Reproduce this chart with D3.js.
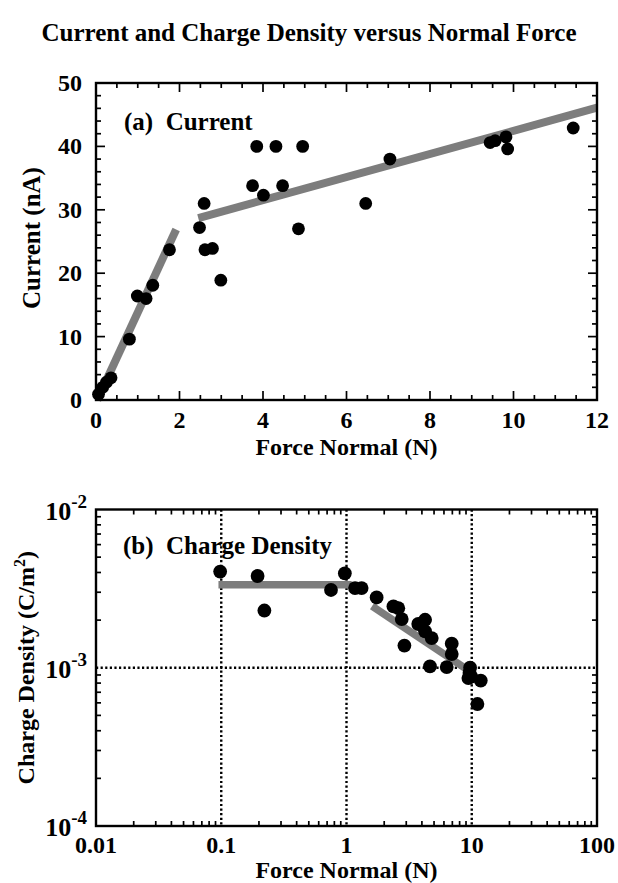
<!DOCTYPE html>
<html><head><meta charset="utf-8">
<script src="https://cdn.jsdelivr.net/npm/d3@7"></script>
<style>
html,body{margin:0;padding:0;background:#fff;}
text{font-family:"Liberation Serif","Times New Roman",serif;font-weight:bold;fill:#000;}
</style></head>
<body>
<script>
// ---------- DATA ----------
const forceA   = [0.06, 0.16, 0.25, 0.36, 0.80, 0.99, 1.20, 1.36, 1.76, 2.48, 2.59, 2.61, 2.79, 2.99, 3.75, 3.85, 4.01, 4.31, 4.47, 4.85, 4.95, 6.46, 7.04, 9.44, 9.56, 9.82, 9.86, 11.43];
const currentA = [0.9, 2.0, 2.8, 3.5, 9.6, 16.4, 16.0, 18.1, 23.7, 27.2, 31.0, 23.7, 23.9, 18.9, 33.8, 40.0, 32.3, 40.0, 33.8, 27.0, 40.0, 31.0, 38.0, 40.6, 40.9, 41.5, 39.6, 42.9];
const fitA1X = [0.03, 1.92], fitA1Y = [0.0, 26.9];
const fitA2X = [2.45, 12.0], fitA2Y = [28.7, 46.1];
const xTicksA = [0, 2, 4, 6, 8, 10, 12];
const yTicksA = [0, 10, 20, 30, 40, 50];

const forceB   = [0.098, 0.195, 0.221, 0.752, 0.97, 1.17, 1.32, 1.74, 2.37, 2.59, 2.76, 2.90, 3.74, 4.24, 4.24, 4.79, 4.64, 6.31, 6.92, 6.92, 9.7, 9.4, 9.9, 9.6, 11.8, 11.1];
const densityB = [4.05e-3, 3.80e-3, 2.30e-3, 3.10e-3, 3.95e-3, 3.19e-3, 3.19e-3, 2.78e-3, 2.44e-3, 2.38e-3, 2.03e-3, 1.38e-3, 1.89e-3, 2.01e-3, 1.70e-3, 1.54e-3, 1.02e-3, 1.01e-3, 1.42e-3, 1.22e-3, 1.0e-3, 8.6e-4, 8.8e-4, 9.3e-4, 8.3e-4, 5.9e-4];
const fitB1X = [0.095, 1.1], fitB1Y = [3.34e-3, 3.34e-3];
const fitB2X = [1.6, 10.0], fitB2Y = [2.45e-3, 9.3e-4];
const xTicksB = [0.01, 0.1, 1, 10, 100];
const xTickLabelsB = ["0.01", "0.1", "1", "10", "100"];
const yTicksB = [1e-4, 1e-3, 1e-2];
const yTickExpB = ["-4", "-3", "-2"];

const title = "Current and Charge Density versus Normal Force";

// ---------- LAYOUT ----------
const W = 618, H = 883;
const svg = d3.select("body").append("svg").attr("width", W).attr("height", H);
const L = 96, R = 597;
const aTop = 83, aBot = 400;
const bTop = 509.5, bBot = 826;

svg.append("text").attr("x", 309).attr("y", 41).attr("text-anchor", "middle")
  .style("font-size", "25px").text(title);

const fitColor = "#7d7d7d";

// ---------- PANEL A ----------
const xA = d3.scaleLinear().domain([0, 12]).range([L, R]);
const yA = d3.scaleLinear().domain([0, 50]).range([aBot, aTop]);
const gA = svg.append("g");

const minorXA = d3.range(0, 12.001, 0.5);
const minorYA = d3.range(0, 50.001, 2);
minorXA.forEach(v => {
  const major = Math.abs(v % 2) < 1e-6;
  const len = major ? 9 : 5;
  gA.append("line").attr("x1", xA(v)).attr("x2", xA(v)).attr("y1", aBot).attr("y2", aBot - len).attr("stroke", "#000").attr("stroke-width", 1.7);
  gA.append("line").attr("x1", xA(v)).attr("x2", xA(v)).attr("y1", aTop).attr("y2", aTop + len).attr("stroke", "#000").attr("stroke-width", 1.7);
});
minorYA.forEach(v => {
  const major = Math.abs(v % 10) < 1e-6;
  const len = major ? 9 : 5;
  gA.append("line").attr("y1", yA(v)).attr("y2", yA(v)).attr("x1", L).attr("x2", L + len).attr("stroke", "#000").attr("stroke-width", 1.7);
  gA.append("line").attr("y1", yA(v)).attr("y2", yA(v)).attr("x1", R).attr("x2", R - len).attr("stroke", "#000").attr("stroke-width", 1.7);
});

const lineA = d3.line().x(d => xA(d[0])).y(d => yA(d[1]));
gA.append("path").attr("d", lineA(d3.zip(fitA1X, fitA1Y))).attr("stroke", fitColor).attr("stroke-width", 8).attr("fill", "none");
gA.append("path").attr("d", lineA(d3.zip(fitA2X, fitA2Y))).attr("stroke", fitColor).attr("stroke-width", 8).attr("fill", "none");

gA.selectAll("circle").data(d3.zip(forceA, currentA)).join("circle")
  .attr("cx", d => xA(d[0])).attr("cy", d => yA(d[1])).attr("r", 6.4).attr("fill", "#000");

gA.append("rect").attr("x", L).attr("y", aTop).attr("width", R - L).attr("height", aBot - aTop)
  .attr("fill", "none").attr("stroke", "#000").attr("stroke-width", 2.4);

xTicksA.forEach(v => {
  gA.append("text").attr("x", xA(v)).attr("y", 428).attr("text-anchor", "middle").style("font-size", "24px").text(v);
});
yTicksA.forEach(v => {
  gA.append("text").attr("x", 82).attr("y", yA(v) + 8).attr("text-anchor", "end").style("font-size", "24px").text(v);
});
gA.append("text").attr("x", 124).attr("y", 130).style("font-size", "25px").attr("xml:space", "preserve").text("(a)  Current");
gA.append("text").attr("x", (L + R) / 2).attr("y", 455).attr("text-anchor", "middle").style("font-size", "24px").text("Force Normal (N)");
gA.append("text").attr("transform", `translate(40,238) rotate(-90)`).attr("text-anchor", "middle").style("font-size", "25px").text("Current (nA)");

// ---------- PANEL B ----------
const xB = d3.scaleLog().domain([0.01, 100]).range([L, R]);
const yB = d3.scaleLog().domain([1e-4, 1e-2]).range([bBot, bTop]);
const gB = svg.append("g");

[0.1, 1, 10].forEach(v => {
  gB.append("line").attr("x1", xB(v)).attr("x2", xB(v)).attr("y1", bTop).attr("y2", bBot)
    .attr("stroke", "#000").attr("stroke-width", 2.4).attr("stroke-dasharray", "2.2,2.4");
});
[1e-3].forEach(v => {
  gB.append("line").attr("y1", yB(v)).attr("y2", yB(v)).attr("x1", L).attr("x2", R)
    .attr("stroke", "#000").attr("stroke-width", 2.4).attr("stroke-dasharray", "2.2,2.4");
});

const minorXB = [];
[0.01, 0.1, 1, 10].forEach(d => { for (let k = 2; k <= 9; k++) minorXB.push(d * k); });
const minorYB = [];
[1e-4, 1e-3].forEach(d => { for (let k = 2; k <= 9; k++) minorYB.push(d * k); });
minorXB.forEach(v => {
  gB.append("line").attr("x1", xB(v)).attr("x2", xB(v)).attr("y1", bBot).attr("y2", bBot - 5).attr("stroke", "#000").attr("stroke-width", 1.7);
  gB.append("line").attr("x1", xB(v)).attr("x2", xB(v)).attr("y1", bTop).attr("y2", bTop + 5).attr("stroke", "#000").attr("stroke-width", 1.7);
});
minorYB.forEach(v => {
  gB.append("line").attr("y1", yB(v)).attr("y2", yB(v)).attr("x1", L).attr("x2", L + 5).attr("stroke", "#000").attr("stroke-width", 1.7);
  gB.append("line").attr("y1", yB(v)).attr("y2", yB(v)).attr("x1", R).attr("x2", R - 5).attr("stroke", "#000").attr("stroke-width", 1.7);
});

const lineB = d3.line().x(d => xB(d[0])).y(d => yB(d[1]));
gB.append("path").attr("d", lineB(d3.zip(fitB1X, fitB1Y))).attr("stroke", fitColor).attr("stroke-width", 7.5).attr("fill", "none");
gB.append("path").attr("d", lineB(d3.zip(fitB2X, fitB2Y))).attr("stroke", fitColor).attr("stroke-width", 7.5).attr("fill", "none");

gB.selectAll("circle").data(d3.zip(forceB, densityB)).join("circle")
  .attr("cx", d => xB(d[0])).attr("cy", d => yB(d[1])).attr("r", 6.9).attr("fill", "#000");

gB.append("rect").attr("x", L).attr("y", bTop).attr("width", R - L).attr("height", bBot - bTop)
  .attr("fill", "none").attr("stroke", "#000").attr("stroke-width", 2.4);

xTicksB.forEach((v, i) => {
  gB.append("text").attr("x", xB(v)).attr("y", 853).attr("text-anchor", "middle").style("font-size", "24px").text(xTickLabelsB[i]);
});
yTicksB.forEach((v, i) => {
  const t = gB.append("text").attr("x", 87).attr("y", yB(v) + 10).attr("text-anchor", "end").style("font-size", "26px");
  t.append("tspan").text("10");
  t.append("tspan").attr("dy", -12).style("font-size", "19px").text(yTickExpB[i]);
});
gB.append("text").attr("x", 123).attr("y", 554).style("font-size", "25px").attr("xml:space", "preserve").text("(b)  Charge Density");
gB.append("text").attr("x", (L + R) / 2).attr("y", 878).attr("text-anchor", "middle").style("font-size", "24px").text("Force Normal (N)");
const yt = gB.append("text").attr("transform", `translate(34,${(bTop + bBot) / 2}) rotate(-90)`).attr("text-anchor", "middle").style("font-size", "24px");
yt.append("tspan").text("Charge Density (C/m");
yt.append("tspan").attr("dy", -9).style("font-size", "16px").text("2");
yt.append("tspan").attr("dy", 9).text(")");
</script>
</body></html>
